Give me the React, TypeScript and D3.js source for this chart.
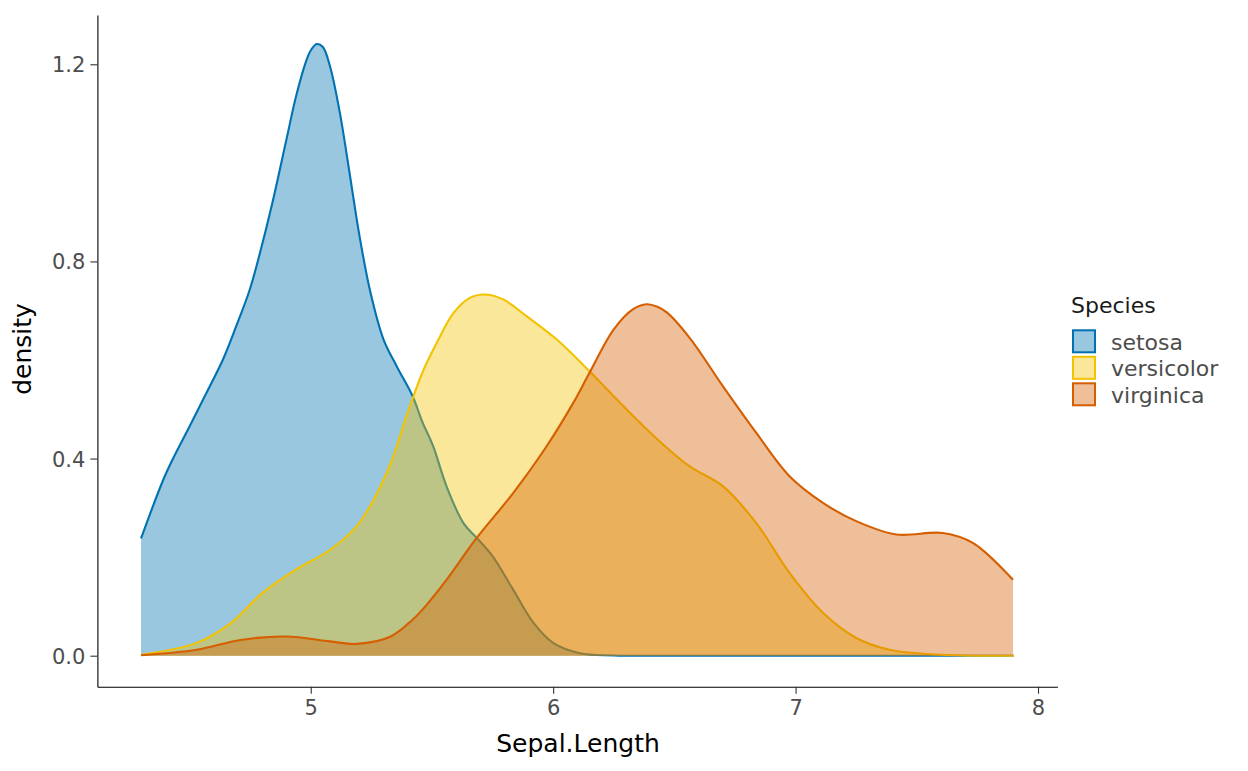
import React, { useRef, useEffect } from 'react';
import * as d3 from 'd3';

// density curves, [Sepal.Length, density]
const setosa: [number, number][] = [
  [4.3, 0.238], [4.39, 0.355], [4.43, 0.398], [4.5, 0.465], [4.556, 0.52], [4.638, 0.601],
  [4.693, 0.669], [4.748, 0.742], [4.783, 0.803], [4.84, 0.915], [4.9, 1.048], [4.94, 1.136],
  [4.98, 1.205], [5.0, 1.228], [5.025, 1.241], [5.05, 1.235], [5.08, 1.195], [5.12, 1.102],
  [5.16, 0.98], [5.2, 0.855], [5.245, 0.74], [5.3, 0.642], [5.355, 0.587],
  [5.42, 0.527], [5.46, 0.475], [5.505, 0.425], [5.56, 0.344], [5.63, 0.269], [5.685, 0.239],
  [5.75, 0.202], [5.835, 0.134], [5.92, 0.066], [6.0, 0.026], [6.11, 0.005], [6.25, 0.0005],
  [6.5, 0], [7.0, 0], [7.9, 0],
];

const versicolor: [number, number][] = [
  [4.3, 0.002], [4.53, 0.026], [4.67, 0.066], [4.8, 0.127], [4.94, 0.175], [5.08, 0.215],
  [5.19, 0.263], [5.26, 0.317], [5.33, 0.391], [5.395, 0.486], [5.46, 0.574], [5.52, 0.635],
  [5.59, 0.696], [5.656, 0.726], [5.718, 0.733], [5.794, 0.723], [5.89, 0.689], [6.014, 0.642],
  [6.15, 0.577], [6.29, 0.506], [6.43, 0.439], [6.563, 0.384], [6.7, 0.344], [6.838, 0.269],
  [6.975, 0.168], [7.113, 0.087], [7.25, 0.036], [7.387, 0.012], [7.525, 0.004], [7.7, 0.0005],
  [7.9, 0],
];

const virginica: [number, number][] = [
  [4.3, 0.001], [4.53, 0.012], [4.71, 0.032], [4.9, 0.039], [5.08, 0.029], [5.19, 0.024],
  [5.33, 0.039], [5.42, 0.073], [5.46, 0.093], [5.56, 0.154], [5.68, 0.236], [5.835, 0.33],
  [5.973, 0.425], [6.083, 0.513], [6.15, 0.574], [6.25, 0.662], [6.33, 0.703], [6.385, 0.713],
  [6.43, 0.708], [6.47, 0.696], [6.563, 0.645], [6.7, 0.547], [6.838, 0.452], [6.975, 0.364],
  [7.113, 0.31], [7.25, 0.273], [7.415, 0.246], [7.607, 0.249], [7.731, 0.229], [7.897, 0.154],
];

const species = ['setosa', 'versicolor', 'virginica'];
const colors = ['#0072B2', '#F2C300', '#D55E00'];
const xTicks = [5, 6, 7, 8];
const yTicks = [0, 0.4, 0.8, 1.2];

const App: React.FC = () => {
  const svgRef = useRef<SVGSVGElement>(null);

  useEffect(() => {
    const svg = d3.select(svgRef.current);
    svg.selectAll('*').remove();
    const font = 'DejaVu Sans';

    const x = d3.scaleLinear().domain([4.12, 8.08]).range([97.4, 1057.4]);
    const y = d3.scaleLinear().domain([-0.0629, 1.3]).range([686.7, 15]);

    const series = [setosa, versicolor, virginica];
    const curve = d3.curveCatmullRom.alpha(0.5);
    const area = d3.area<[number, number]>()
      .x(d => x(d[0]))
      .y0(y(0))
      .y1(d => y(Math.max(0, d[1])))
      .curve(curve);
    const line = d3.line<[number, number]>()
      .x(d => x(d[0]))
      .y(d => y(d[1]))
      .curve(curve);

    const plot = svg.append('g');
    series.forEach((s, i) => {
      plot.append('path').attr('d', area(s)).attr('fill', colors[i]).attr('fill-opacity', 0.4);
      plot.append('path').attr('d', line(s)).attr('fill', 'none')
        .attr('stroke', colors[i]).attr('stroke-width', 2.1);
    });

    // axes
    const xAxis = svg.append('g').attr('transform', `translate(0,${y.range()[0]})`)
      .call(d3.axisBottom(x).tickValues(xTicks).tickSizeInner(7).tickSizeOuter(0).tickPadding(6).tickFormat(d3.format('d')));
    const yAxis = svg.append('g').attr('transform', `translate(${x.range()[0]},0)`)
      .call(d3.axisLeft(y).tickValues(yTicks).tickSizeInner(7).tickSizeOuter(0).tickPadding(5).tickFormat(d3.format('.1f')));
    [xAxis, yAxis].forEach(a => {
      a.select('.domain').attr('stroke', '#000').attr('stroke-width', 1.1);
      a.selectAll('.tick line').attr('stroke', '#333').attr('stroke-width', 1.1);
      a.selectAll('.tick text').attr('fill', '#4D4D4D').style('font-family', font).style('font-size', '21px');
    });
    xAxis.selectAll('.tick text').attr('dy', '0.71em');
    yAxis.selectAll('.tick text').attr('dy', '0.36em');

    svg.append('text').attr('x', 578).attr('y', 751.5).attr('text-anchor', 'middle')
      .style('font-family', font).style('font-size', '25px').attr('fill', '#000').text('Sepal.Length');
    svg.append('text').attr('transform', 'translate(31,349) rotate(-90)').attr('text-anchor', 'middle')
      .style('font-family', font).style('font-size', '25px').attr('fill', '#000').text('density');

    // legend
    const legend = svg.append('g');
    legend.append('text').attr('x', 1071).attr('y', 313).style('font-family', font).style('font-size', '22px')
      .attr('fill', '#1a1a1a').text('Species');
    species.forEach((name, i) => {
      const cy = 341.3 + i * 26.5;
      legend.append('rect').attr('x', 1073).attr('y', cy - 11).attr('width', 22).attr('height', 22)
        .attr('fill', colors[i]).attr('fill-opacity', 0.4).attr('stroke', colors[i]).attr('stroke-width', 2);
      legend.append('text').attr('x', 1111).attr('y', cy + 8.5).style('font-family', font).style('font-size', '22px')
        .attr('fill', '#4D4D4D').text(name);
    });
  }, []);

  return <svg ref={svgRef} width={1248} height={771} style={{ position: 'absolute', left: 0, top: 0, background: '#fff' }} />;
};

export default App;
